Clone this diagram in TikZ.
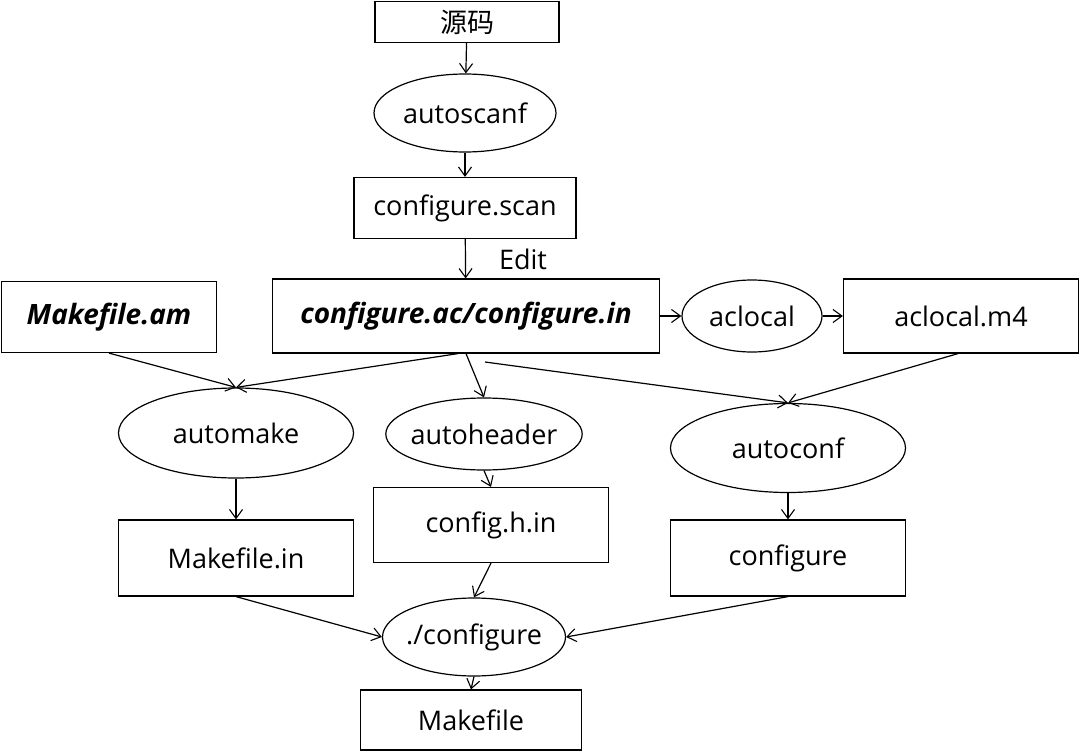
\documentclass[tikz,border=0pt]{standalone}
\usepackage{fontspec}
\setmainfont{Open Sans}
\newfontfamily\cjk{Noto Sans CJK SC}
\usetikzlibrary{shapes.geometric,arrows.meta}

\begin{document}
\begin{tikzpicture}[x=1pt, y=-1pt, line width=1.2pt,
  font=\fontsize{27}{32}\selectfont,
  box/.style={draw, rectangle, inner sep=0pt},
  proc/.style={draw, ellipse, inner ysep=0pt, inner xsep=-4pt},
  key/.style={font=\fontsize{28}{32}\selectfont\bfseries\itshape},
  flow/.style={-{Straight Barb[length=9pt,width=13pt,line width=1.1pt]}}]
		\useasboundingbox (0,0) rectangle (1080,752);

		\node[box, minimum width=184pt, minimum height=41pt] (src) at (467,22) {\cjk 源码};
		\node[proc, minimum width=182pt, minimum height=78pt] (scanf) at (465,113) {autoscanf};
		\node[box, minimum width=222pt, minimum height=61pt] (scan) at (465,208) {configure.scan};
		\node (edit) at (523,259) {Edit};
		\node[box, key, minimum width=387pt, minimum height=74pt] (ac) at (466,316) {configure.ac/configure.in};
		\node[proc, minimum width=140pt, minimum height=72pt] (aclocal) at (752,316) {aclocal};
		\node[box, minimum width=235pt, minimum height=74pt] (m4) at (961,316) {aclocal.m4};
		\node[box, key, minimum width=215pt, minimum height=71pt] (am) at (109,317) {Makefile.am};

		\node[proc, minimum width=235pt, minimum height=90pt] (automake) at (236,433) {automake};
		\node[proc, minimum width=196pt, minimum height=72pt] (autoheader) at (484,434) {autoheader};
		\node[proc, minimum width=235pt, minimum height=89pt] (autoconf) at (788,448) {autoconf};

		\node[box, minimum width=235pt, minimum height=76pt] (mkin) at (236,558) {Makefile.in};
		\node[box, minimum width=235pt, minimum height=75pt] (cfgh) at (491,525) {config.h.in};
		\node[box, minimum width=235pt, minimum height=76pt] (cfg) at (788,558) {configure};

		\node[proc, minimum width=183pt, minimum height=78pt] (run) at (474,637) {./configure};
		\node[box, minimum width=221pt, minimum height=60pt] (mk) at (471,720) {Makefile};

		\coordinate (acr) at (485,362);

		\draw[flow] (src) -- (scanf);
		\draw[flow] (scanf) -- (scan);
		\draw[flow] (scan) -- (ac);
		\draw[flow] (ac) -- (aclocal);
		\draw[flow] (aclocal) -- (m4);
		\draw[flow] (am.south) -- (automake.north);
		\draw[flow] ([xshift=-8pt]ac.south) -- (automake.north);
		\draw[flow] (ac.south) -- (autoheader.north);
		\draw[flow] (acr) -- (autoconf.north);
		\draw[flow] ([xshift=-3pt]m4.south) -- (autoconf.north);
		\draw[flow] (automake) -- (mkin);
		\draw[flow] (autoheader.south) -- (cfgh.north);
		\draw[flow] (autoconf) -- (cfg);
		\draw[flow] (mkin.south) -- (run.west);
		\draw[flow] (cfgh.south) -- (run.north);
		\draw[flow] (cfg.south) -- (run.east);
		\draw[flow] (run.south) -- (mk.north);
	\end{tikzpicture}
\end{document}
